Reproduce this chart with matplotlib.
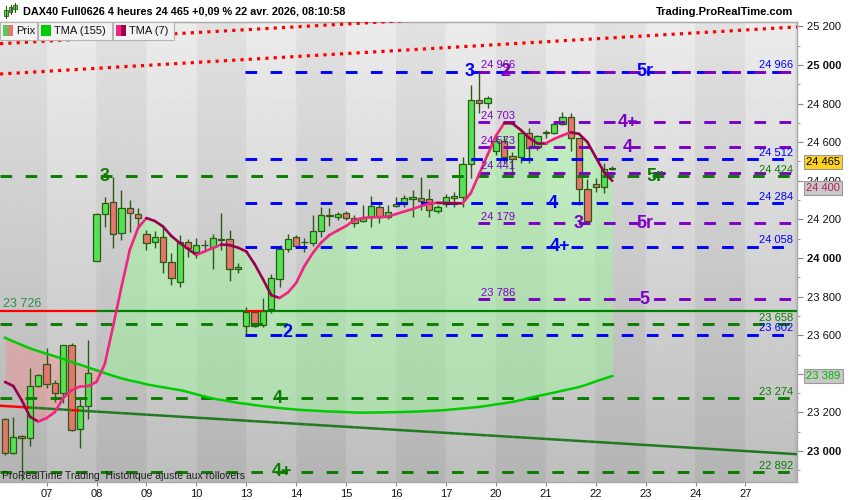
import numpy as np
import matplotlib
matplotlib.use("Agg")
import matplotlib.pyplot as plt
from matplotlib.patches import Rectangle
from matplotlib.collections import LineCollection
from matplotlib.lines import Line2D

plt.rcParams['font.family'] = ['Liberation Sans', 'DejaVu Sans']

# ---------------- data ----------------
day_labels = ['07', '08', '09', '10', '13', '14', '15', '16', '17', '20', '21', '22', '23', '24', '27']
first_day_k = 5          # index of the first 4h candle of day "07"
candles_per_day = 6

opens = [23164, 22988, 23078, 23066, 23338, 23449, 23351, 23299, 23548, 23113, 23235,
         23985, 24226, 24289, 24128, 24258, 24226, 24123, 24085, 24107, 23978, 23877, 24085, 24033,
         24065, 24059, 24094, 24097, 23942,
         23648, 23719, 23653, 23734, 23890, 24045, 24107, 24081, 24076, 24142, 24219, 24214, 24232,
         24206, 24192, 24214, 24266, 24211, 24271, 24280, 24307, 24309, 24304, 24245, 24280, 24312,
         24318, 24486, 24817, 24802,
         24554, 24606, 24529, 24525, 24646, 24574, 24649, 24646, 24694, 24732, 24620, 24356, 24382,
         24369, 24460]
highs = [23171, 23175, 23083, 23429, 23399, 23532, 23368, 23552, 23561, 23281, 23575,
         24235, 24318, 24418, 24352, 24301, 24258, 24145, 24142, 24162, 24024, 24119, 24097, 24102,
         24093, 24124, 24232, 24145, 23973,
         23748, 23722, 23791, 23916, 24067, 24124, 24120, 24102, 24223, 24266, 24258, 24240, 24244,
         24223, 24275, 24321, 24289, 24275, 24318, 24326, 24352, 24418, 24358, 24275, 24330, 24344,
         24522, 24896, 24966, 24840,
         24643, 24632, 24551, 24654, 24672, 24635, 24663, 24706, 24758, 24750, 24622, 24408, 24413,
         24491, 24477]
lows = [22979, 22985, 22850, 23028, 23333, 23327, 23254, 23247, 23105, 23014, 23164,
        23985, 24162, 24053, 24093, 24136, 24162, 24042, 24050, 23921, 23860, 23848, 24004, 23999,
        24042, 23942, 24042, 23882, 23921,
        23601, 23645, 23644, 23714, 23848, 24033, 24055, 24033, 24062, 24107, 24167, 24197, 24197,
        24162, 24188, 24162, 24183, 24201, 24266, 24266, 24214, 24249, 24211, 24232, 24263, 24266,
        24266, 24413, 24750, 24776,
        24534, 24491, 24439, 24491, 24491, 24560, 24623, 24644, 24690, 24556, 24275, 24190, 24344,
        24338, 24456]
closes = [22988, 23074, 23066, 23338, 23392, 23346, 23299, 23548, 23109, 23235, 23403,
          24226, 24283, 24123, 24258, 24232, 24206, 24076, 24107, 23978, 23895, 24085, 24050, 24067,
          24067, 24102, 24100, 23942, 23952,
          23719, 23648, 23727, 23895, 24047, 24097, 24062, 24082, 24142, 24223, 24221, 24226, 24206,
          24180, 24209, 24271, 24214, 24237, 24278, 24309, 24315, 24297, 24249, 24263, 24315, 24320,
          24486, 24819, 24802, 24827,
          24606, 24525, 24515, 24646, 24568, 24632, 24654, 24693, 24732, 24620, 24356, 24193, 24366,
          24460, 24465]
tma7 = [23358, 23337, 23264, 23178, 23153, 23171, 23202, 23275, 23316, 23334, 23337, 23358,
        23451, 23648, 23850, 24042, 24156, 24207, 24192, 24163, 24114, 24078, 24047, 24016, 24034,
        24052, 24070, 24067, 24054, 24034, 23969, 23891, 23808, 23793, 23821, 23871, 23959, 24026,
        24080, 24119, 24143, 24166, 24197, 24207, 24211, 24212, 24214, 24228, 24241, 24254, 24269,
        24282, 24286, 24285, 24284, 24283, 24337, 24435, 24534, 24632, 24698, 24697, 24663, 24622,
        24594, 24594, 24617, 24635, 24651, 24643, 24601, 24523, 24446, 24400]
tma155 = [23587, 23568, 23550, 23532, 23518, 23504, 23491, 23477, 23462, 23448,
          23433, 23419, 23404, 23390, 23377, 23366, 23357, 23346, 23338, 23331,
          23323, 23316, 23306, 23294, 23283, 23272, 23265, 23258, 23250, 23245,
          23238, 23233, 23228, 23223, 23219, 23215, 23212, 23210, 23207, 23205,
          23204, 23202, 23200, 23199, 23200, 23200, 23201, 23202, 23203, 23204,
          23206, 23208, 23210, 23213, 23217, 23221, 23225, 23229, 23235, 23242,
          23248, 23255, 23264, 23275, 23285, 23294, 23303, 23313, 23322, 23332,
          23345, 23361, 23375, 23389]

green_levels = [24424, 23658, 23274, 22892]
blue_levels = [24966, 24512, 24284, 24058, 23602]
purple_levels = [24966, 24703, 24573, 24441, 24179, 23786]
blue_start_k = 29
purple_start_k = 57
hline_value = 23726
desc_line_k = [-0.6, 95.2]
desc_line_v = [23235, 22984]
dot_line1_k = [-0.6, 95.2]
dot_line1_v = [24953, 25197]
dot_line2_k = [-0.6, 95.2]
dot_line2_v = [25110, 25345]

GREEN = '#0a7d00'
BLUE = '#0000ff'
PURPLE = '#7d00c4'

big_labels = [("3", GREEN, 12.0, 24424), ("5r", GREEN, 78.1, 24424), ("4", GREEN, 32.8, 23274),
              ("4+", GREEN, 33.3, 22892),
              ("3", BLUE, 55.9, 24966), ("5r", BLUE, 76.9, 24966), ("4", BLUE, 65.9, 24284),
              ("4+", BLUE, 66.7, 24058), ("2", BLUE, 34.0, 23612),
              ("2", PURPLE, 60.1, 24966), ("4+", PURPLE, 74.9, 24703), ("4", PURPLE, 74.9, 24573),
              ("3", PURPLE, 68.9, 24179), ("5r", PURPLE, 76.9, 24179), ("5", PURPLE, 76.9, 23786)]


def fmt(v):
    return f"{int(round(v)):,}".replace(",", " ")


# ---------------- figure ----------------
W, H = 850, 500
fig = plt.figure(figsize=(8.5, 5.0), dpi=100, facecolor='white')
ax_left, ax_right, ax_top, ax_bot = 0, 797, 21.7, 482
ax = fig.add_axes([ax_left / W, 1 - ax_bot / H, (ax_right - ax_left) / W, (ax_bot - ax_top) / H])

xl = (-0.6, 95.2)
yl = (22840, 25224)

n = len(closes)
ks = np.arange(n)
o = np.array(opens, float); h = np.array(highs, float)
l = np.array(lows, float); c = np.array(closes, float)
t7 = np.array(tma7, float); t155 = np.array(tma155, float)

# background gradient with alternating day bands
nx, ny = 1000, 300
xs = np.linspace(xl[0], xl[1], nx)
ys = np.linspace(yl[0], yl[1], ny)
tt = (ys - yl[0]) / (yl[1] - yl[0])
base = 0.745 + 0.18 * tt
day_idx = np.floor((xs - first_day_k) / candles_per_day)
dark = (day_idx % 2 == 1).astype(float)
img = base[:, None] - 0.04 * dark[None, :]
ax.imshow(img, extent=[xl[0], xl[1], yl[0], yl[1]], origin='lower', aspect='auto',
          cmap='gray', vmin=0, vmax=1, zorder=0, interpolation='bilinear')

# fill between TMAs
ax.fill_between(ks, t7, t155, where=t7 >= t155, interpolate=True, color='#96ff96', alpha=0.42, lw=0, zorder=1)
ax.fill_between(ks, t7, t155, where=t7 <= t155, interpolate=True, color='#ff8080', alpha=0.35, lw=0, zorder=1)

# candles
EDGE = '#2b5a12'
for k in range(n):
    ax.plot([k, k], [l[k], h[k]], color=EDGE, lw=1.0, zorder=3, solid_capstyle='butt')
    up = c[k] >= o[k]
    bot = min(o[k], c[k]); ht = max(abs(c[k] - o[k]), 3)
    ax.add_patch(Rectangle((k - 0.38, bot), 0.76, ht, facecolor='#55e055' if up else '#e8746e',
                           edgecolor=EDGE, lw=0.9, zorder=3.5))

# dashed level lines
DASH = dict(lw=2.1, dashes=(4, 4.6), dash_capstyle='butt', zorder=4)
for v in green_levels:
    ax.plot(xl, [v, v], color=GREEN, **DASH)
for v in blue_levels:
    ax.plot([blue_start_k - 0.1, xl[1]], [v, v], color=BLUE, **DASH)
for v in purple_levels:
    ax.plot([purple_start_k - 0.1, xl[1]], [v, v], color=PURPLE, **DASH)


def two_color_line(xk, xv, lw, good_color):
    def f(x):
        return np.interp(x, xk, xv)
    pts = [xl[0]] + list(ks) + [xl[1]]
    segs, cols = [], []
    for i in range(len(pts) - 1):
        a, b = pts[i], pts[i + 1]
        ci = int(max(0, min(n - 1, np.floor(a)))) if a >= 0 else 0
        below = (c[ci] < f(ci)) and a < n - 1
        segs.append([(a, f(a)), (b, f(b))])
        cols.append('#ff0000' if below else good_color)
    ax.add_collection(LineCollection(segs, colors=cols, linewidths=lw, zorder=4.5, capstyle='butt'))


two_color_line([xl[0], xl[1]], [hline_value, hline_value], 1.6, '#008000')
two_color_line(desc_line_k, desc_line_v, 1.8, '#1f7a1f')

# red dotted channel
for kk, vv in [(dot_line1_k, dot_line1_v), (dot_line2_k, dot_line2_v)]:
    ax.plot(kk, vv, color='#ff0000', lw=2.3, dashes=(1, 1.6), dash_capstyle='butt', zorder=4)

# TMA lines
ax.plot(ks, t155, color='#00cc00', lw=1.8, zorder=5)
segs7 = [[(ks[i], t7[i]), (ks[i + 1], t7[i + 1])] for i in range(n - 1)]
cols7 = ['#f0257f' if t7[i + 1] > t7[i] else '#9a0050' for i in range(n - 1)]
ax.add_collection(LineCollection(segs7, colors=cols7, linewidths=1.9, zorder=5, capstyle='round'))

# big numeral labels
for s, col, k, v in big_labels:
    ax.text(k, v, s, color=col, fontsize=13, fontweight='bold', ha='center', va='center', zorder=7)

# right-side value labels
for v in blue_levels:
    ax.annotate(fmt(v), xy=(1, v), xycoords=('axes fraction', 'data'), xytext=(-3, 1),
                textcoords='offset points', ha='right', va='bottom', color=BLUE, fontsize=8, zorder=7)
for v in green_levels:
    ax.annotate(fmt(v), xy=(1, v), xycoords=('axes fraction', 'data'), xytext=(-3, 1),
                textcoords='offset points', ha='right', va='bottom', color=GREEN, fontsize=8, zorder=7)
for v in purple_levels:
    ax.annotate(fmt(v), xy=(purple_start_k, v), xytext=(1, 1), textcoords='offset points',
                ha='left', va='bottom', color=PURPLE, fontsize=8, zorder=6.5)
ax.annotate(fmt(hline_value), xy=(xl[0], hline_value), xytext=(2, 1), textcoords='offset points',
            ha='left', va='bottom', color='#2e8b57', fontsize=9, zorder=7)

ax.text(0.003, 0.013, "ProRealTime Trading  Historique ajusté aux rollovers", transform=ax.transAxes,
        fontsize=7.5, color='#202020', ha='left', va='center', zorder=8)

# axes styling
ax.set_xlim(*xl)
ax.set_ylim(*yl)
ax.yaxis.tick_right()
yt = np.arange(23000, 25201, 200)
ax.set_yticks(yt)
ax.set_yticklabels([fmt(v) for v in yt], fontsize=8)
for lab, v in zip(ax.get_yticklabels(), yt):
    if v % 1000 == 0:
        lab.set_fontweight('bold')
ax.set_yticks(np.arange(22900, 25201, 100), minor=True)
ax.tick_params(axis='y', which='major', length=4, color='#888888', pad=3, labelcolor='#111111')
ax.tick_params(axis='y', which='minor', length=2, color='#888888')
xt = [first_day_k + candles_per_day * i for i in range(len(day_labels))]
ax.set_xticks(xt)
ax.set_xticklabels(day_labels, fontsize=8)
ax.tick_params(axis='x', length=3, color='#888888', pad=2, labelcolor='#111111')
ax.spines['left'].set_visible(False)
for side in ['right', 'bottom', 'top']:
    ax.spines[side].set_color('#a8a8a8')
    ax.spines[side].set_linewidth(1.0)

# price tags
tags = [(closes[-1], 4.5, '#ffd21f', '#000000'),
        (tma7[-1], -5.0, '#c8c8c8', '#b0205a'),
        (tma155[-1], 0.0, '#c8c8c8', '#00b400')]
for v, dy, fc, tc in tags:
    ax.annotate(fmt(v), xy=(1, v), xycoords=('axes fraction', 'data'), xytext=(19, dy),
                textcoords='offset points', ha='center', va='center', fontsize=8, color=tc,
                bbox=dict(boxstyle='square,pad=0.18', fc=fc, ec='#9a9a9a', lw=0.8),
                annotation_clip=False, zorder=10)

# header
fig.text(23 / W, 1 - 12 / H, "DAX40 Full0626 4 heures 24 465 +0,09 % 22 avr. 2026, 08:10:58",
         fontsize=7.8, fontweight='bold', ha='left', va='center', color='#000000')
fig.text(793 / W, 1 - 12 / H, "Trading.ProRealTime.com", fontsize=8, fontweight='bold',
         ha='right', va='center', color='#000000')
# small candle icon
for xi, (y0, y1, b0, b1) in zip([6, 10.5, 15], [(6, 18, 10, 16), (5, 14, 7, 12), (3, 12, 5, 9)]):
    fig.lines.append(Line2D([xi / W, xi / W], [1 - y1 / H, 1 - y0 / H], transform=fig.transFigure,
                            color='#2b5a12', lw=0.8))
    fig.patches.append(Rectangle(((xi - 1.6) / W, 1 - b1 / H), 3.2 / W, (b1 - b0) / H,
                                 transform=fig.transFigure, fc='#55e055', ec='#2b5a12', lw=0.6))

# legend boxes
boxes = [(0, 37, "Prix", ('#55cc55', '#e8746e')),
         (38, 112, "TMA (155)", ('#00cc00', '#00cc00')),
         (113, 174, "TMA (7)", ('#f0257f', '#9a0050'))]
for x0, x1, txt, (c1, c2) in boxes:
    fig.patches.append(Rectangle((x0 / W, 1 - 40 / H), (x1 - x0) / W, 18 / H, transform=fig.transFigure,
                                 fc='#f2f2f2', ec='#b4b4b4', lw=0.8, zorder=5))
    fig.patches.append(Rectangle(((x0 + 3) / W, 1 - 36 / H), 5 / W, 11 / H, transform=fig.transFigure,
                                 fc=c1, ec='none', zorder=6))
    fig.patches.append(Rectangle(((x0 + 8) / W, 1 - 36 / H), 5 / W, 11 / H, transform=fig.transFigure,
                                 fc=c2, ec='none', zorder=6))
    fig.text((x0 + 16) / W, 1 - 31 / H, txt, fontsize=8, ha='left', va='center', color='#111111', zorder=7)

fig.savefig('out.png', dpi=100, facecolor='white')
